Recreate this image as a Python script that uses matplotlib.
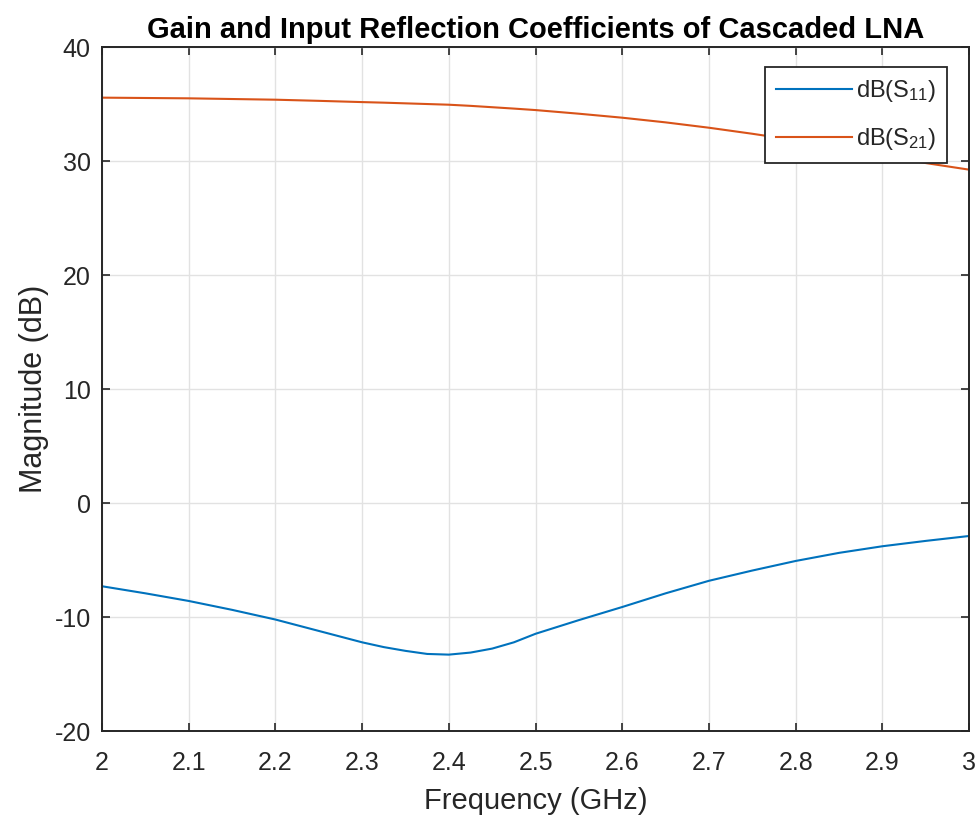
import matplotlib
matplotlib.use("Agg")
import matplotlib.pyplot as plt

plt.rcParams['font.family'] = ['Liberation Sans', 'DejaVu Sans']
plt.rcParams['mathtext.default'] = 'regular'
plt.rcParams['axes.unicode_minus'] = False

freq_ghz = [2.000, 2.050, 2.100, 2.150, 2.200, 2.250, 2.300, 2.325, 2.350, 2.375,
            2.400, 2.425, 2.450, 2.475, 2.500, 2.550, 2.600, 2.650, 2.700, 2.750,
            2.800, 2.850, 2.900, 2.950, 3.000]
s11_db = [-7.28, -7.90, -8.57, -9.35, -10.20, -11.20, -12.20, -12.62, -12.95, -13.22,
          -13.28, -13.10, -12.75, -12.20, -11.45, -10.25, -9.10, -7.90, -6.80, -5.90,
          -5.06, -4.35, -3.77, -3.30, -2.87]
s21_db = [35.59, 35.56, 35.53, 35.47, 35.41, 35.31, 35.20, 35.15, 35.09, 35.03,
          34.97, 34.87, 34.75, 34.63, 34.50, 34.18, 33.83, 33.42, 32.95, 32.42,
          31.85, 31.20, 30.50, 29.85, 29.27]

x_ticks = [2, 2.1, 2.2, 2.3, 2.4, 2.5, 2.6, 2.7, 2.8, 2.9, 3]
x_tick_labels = ['2', '2.1', '2.2', '2.3', '2.4', '2.5', '2.6', '2.7', '2.8', '2.9', '3']
y_ticks = [-20, -10, 0, 10, 20, 30, 40]

axis_color = '#262626'

fig = plt.figure(figsize=(9.8, 8.17), dpi=100)
ax = fig.add_axes([0.104, 0.105, 0.885, 0.837])

ax.plot(freq_ghz, s11_db, color='#0072BD', lw=1.5, label='dB(S$_{11}$)')
ax.plot(freq_ghz, s21_db, color='#D95319', lw=1.5, label='dB(S$_{21}$)')

ax.set_xlim(2, 3)
ax.set_ylim(-20, 40)
ax.set_xticks(x_ticks)
ax.set_xticklabels(x_tick_labels)
ax.set_yticks(y_ticks)

ax.grid(True, color='#e2e2e2', lw=1.0)
ax.set_axisbelow(True)

for sp in ax.spines.values():
    sp.set_color(axis_color)
    sp.set_linewidth(1.4)

ax.tick_params(direction='in', length=6, width=1.2, colors=axis_color,
               labelsize=18, top=True, right=True)
ax.tick_params(axis='x', pad=14)
ax.tick_params(axis='y', pad=8)

ax.set_xlabel('Frequency (GHz)', fontsize=21, color=axis_color, labelpad=9)
ax.set_ylabel('Magnitude (dB)', fontsize=22, color=axis_color, labelpad=4)
ax.set_title('Gain and Input Reflection Coefficients of Cascaded LNA',
             fontsize=21, fontweight='bold', color='black', pad=7)

leg = ax.legend(loc='upper right', bbox_to_anchor=(0.9746, 0.9708), fontsize=17,
                frameon=True, fancybox=False, handlelength=3.2, handletextpad=0.2,
                borderpad=0.45, labelspacing=0.95, borderaxespad=0)
leg.get_frame().set_edgecolor(axis_color)
leg.get_frame().set_linewidth(1.3)
leg.get_frame().set_alpha(1.0)
for t in leg.get_texts():
    t.set_color(axis_color)

fig.savefig('out.png', dpi=100)
